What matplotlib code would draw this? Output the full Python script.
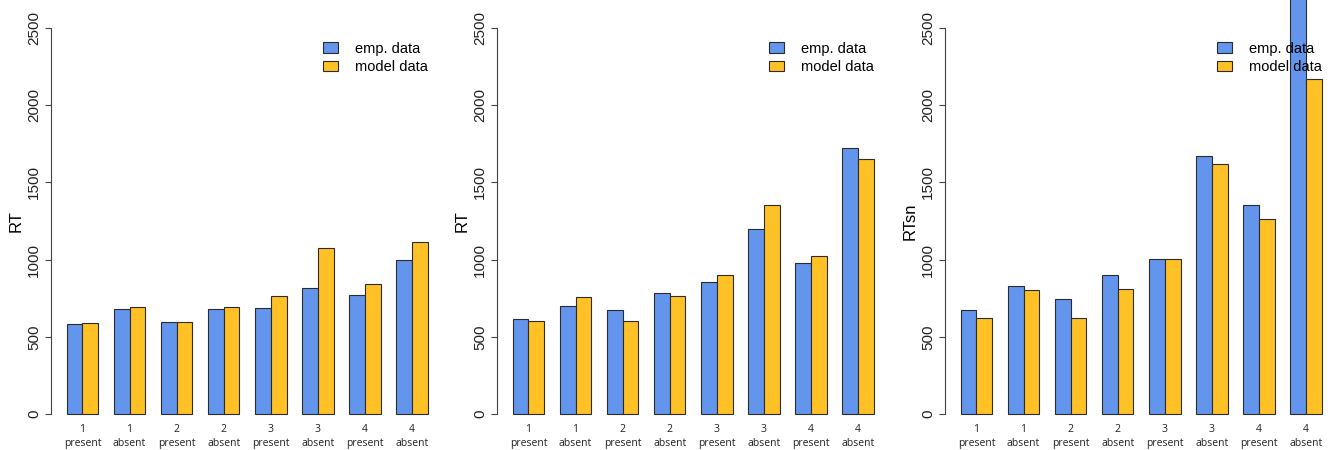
import matplotlib
matplotlib.use("Agg")
import matplotlib.pyplot as plt
from matplotlib.patches import Patch
import numpy as np

# Data
conditions = ["1\npresent", "1\nabsent", "2\npresent", "2\nabsent",
              "3\npresent", "3\nabsent", "4\npresent", "4\nabsent"]

rt1_emp = [583, 680, 596, 678, 684, 816, 769, 1000]
rt1_model = [592, 695, 596, 695, 766, 1077, 844, 1116]

rt2_emp = [615, 697, 676, 786, 853, 1196, 976, 1725]
rt2_model = [600, 756, 604, 766, 900, 1354, 1021, 1654]

rtsn_emp = [676, 831, 747, 900, 1004, 1669, 1354, 2800]
rtsn_model = [624, 805, 624, 812, 1004, 1617, 1261, 2172]

panels = [("RT", rt1_emp, rt1_model),
          ("RT", rt2_emp, rt2_model),
          ("RTsn", rtsn_emp, rtsn_model)]

yticks = [0, 500, 1000, 1500, 2000, 2500]
legend_labels = ["emp. data", "model data"]

BLUE = "#6495ED"
GOLD = "#FFC125"
EDGE = "#2b2b2b"

W, H = 1332, 450
fig = plt.figure(figsize=(W / 100, H / 100), dpi=100)

# axis spine pixel positions for the three panels
spine_x = [51, 497, 945]
unit = 15.7            # pixels per bar width
xmax = 24.6
y0_px, y1_px = 414, 28

# bar positions, R barplot style (space = c(0, 1))
group_left = np.arange(len(conditions)) * 3 + 1
emp_x = group_left + 0.5
model_x = group_left + 1.5
centers = group_left + 1.0

for (ylab, emp, model), sx in zip(panels, spine_x):
    ax = fig.add_axes([sx / W, (H - y0_px) / H, xmax * unit / W, (y0_px - y1_px) / H])
    ax.bar(emp_x, emp, width=1.0, color=BLUE, edgecolor=EDGE, linewidth=0.8, clip_on=False)
    ax.bar(model_x, model, width=1.0, color=GOLD, edgecolor=EDGE, linewidth=0.8, clip_on=False)
    ax.set_xlim(0, xmax)
    ax.set_ylim(0, 2500)

    for s in ["top", "right", "bottom"]:
        ax.spines[s].set_visible(False)
    ax.spines["left"].set_color("#444444")
    ax.spines["left"].set_linewidth(0.8)

    ax.set_yticks(yticks)
    ax.set_yticklabels([str(v) for v in yticks], rotation=90, va="center",
                       fontsize=11, family="Liberation Sans", color="#222222")
    ax.tick_params(axis="y", length=4.5, width=0.8, color="#444444", pad=2.5)

    ax.set_xticks(centers)
    ax.set_xticklabels(conditions, fontsize=7.5, family="Open Sans",
                       linespacing=1.45, color="#222222")
    ax.tick_params(axis="x", length=0, pad=7)

    ax.set_ylabel(ylab, fontsize=12, family="Liberation Sans")
    ax.yaxis.set_label_coords(-27 / (xmax * unit), 0.5)

    handles = [Patch(facecolor=BLUE, edgecolor=EDGE, linewidth=0.8),
               Patch(facecolor=GOLD, edgecolor=EDGE, linewidth=0.8)]
    ax.legend(handles, legend_labels, loc="upper left",
              bbox_to_anchor=((316 - 51) / (xmax * unit), 0.983),
              frameon=False, handlelength=1.0, handleheight=0.75,
              handletextpad=1.2, labelspacing=0.3, borderpad=0,
              prop={"family": "Liberation Sans", "size": 10.5})
    ax.set_facecolor("none")

fig.savefig("out.png", dpi=100)
